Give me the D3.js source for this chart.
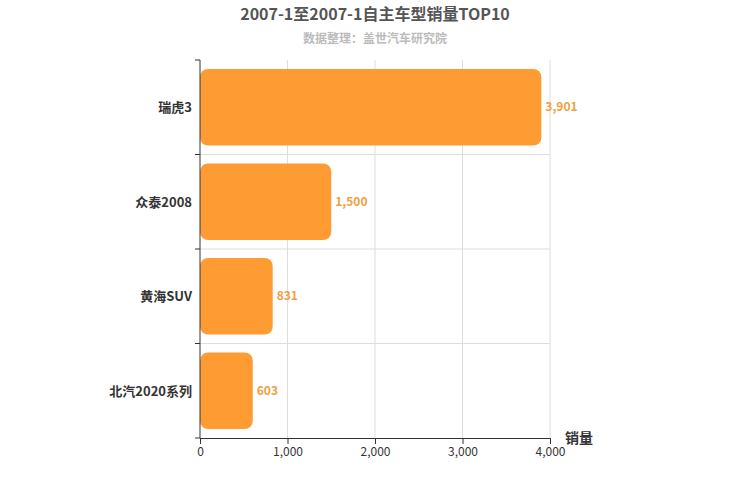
<!DOCTYPE html><html><head><meta charset="utf-8"><script src="https://cdn.jsdelivr.net/npm/d3@7"></script>
<style>body{margin:0;background:#fff}text{font-family:"Noto Sans CJK SC","DejaVu Sans",sans-serif}</style></head><body>
<svg id="c" width="750" height="500"></svg>
<script>
const categories=["瑞虎3","众泰2008","黄海SUV","北汽2020系列"];
const values=[3901,1500,831,603];
const xTicks=[0,1000,2000,3000,4000];
const title="2007-1至2007-1自主车型销量TOP10";
const subtitle="数据整理：盖世汽车研究院";
const svg=d3.select("#c");
const L=200,R=550,T=60,B=438;
const x=d3.scaleLinear().domain([0,4000]).range([L,R]);
const y=d3.scaleBand().domain(categories).range([T,B]).paddingInner(0.19).paddingOuter(0.095);
const yb=d3.scaleBand().domain(categories).range([T,B]);
svg.append("text").attr("x",375).attr("y",20).attr("text-anchor","middle").attr("font-size",16).attr("font-weight","bold").attr("fill","#555").text(title);
svg.append("text").attr("x",375).attr("y",43).attr("text-anchor","middle").attr("font-size",12).attr("font-weight","bold").attr("fill","#bbb").text(subtitle);
// grid
svg.selectAll(".vg").data(xTicks.slice(1)).enter().append("line").attr("x1",d=>x(d)).attr("x2",d=>x(d)).attr("y1",T).attr("y2",B).attr("stroke","#ddd");
const hb=categories.slice(1).map(c=>yb(c));
svg.selectAll(".hg").data(hb).enter().append("line").attr("x1",L).attr("x2",R).attr("y1",d=>d).attr("y2",d=>d).attr("stroke","#ddd");
// bars
svg.selectAll(".bar").data(categories).enter().append("rect").attr("x",L).attr("y",d=>y(d)).attr("width",(d,i)=>x(values[i])-L).attr("height",y.bandwidth()).attr("rx",8).attr("fill","#ff9b33");
svg.selectAll(".vl").data(categories).enter().append("text").attr("x",(d,i)=>x(values[i])+4).attr("y",d=>y(d)+y.bandwidth()/2+4).attr("font-size",12).attr("font-weight","bold").attr("fill","#f0a040").text((d,i)=>d3.format(",")(values[i]));
// axes
const xa=svg.append("g").attr("transform",`translate(0,${B})`).call(d3.axisBottom(x).tickValues(xTicks).tickFormat(d3.format(",")).tickSizeOuter(0));
xa.select(".domain").attr("stroke","#333");xa.selectAll("line").attr("stroke","#333");
xa.selectAll("text").attr("font-size",12).attr("fill","#333");
const ya=svg.append("g");
ya.append("line").attr("x1",L).attr("x2",L).attr("y1",T).attr("y2",B).attr("stroke","#333");
const bounds=categories.map(c=>yb(c)).concat([B]);
ya.selectAll(".t").data(bounds).enter().append("line").attr("x1",L-5).attr("x2",L).attr("y1",d=>d).attr("y2",d=>d).attr("stroke","#333");
ya.selectAll(".yl").data(categories).enter().append("text").attr("x",L-8).attr("y",d=>yb(d)+yb.bandwidth()/2+5).attr("text-anchor","end").attr("font-size",13).attr("font-weight","bold").attr("fill","#333").text(d=>d);
svg.append("text").attr("x",565).attr("y",443).attr("font-size",14).attr("font-weight","bold").attr("fill","#333").text("销量");
</script></body></html>
